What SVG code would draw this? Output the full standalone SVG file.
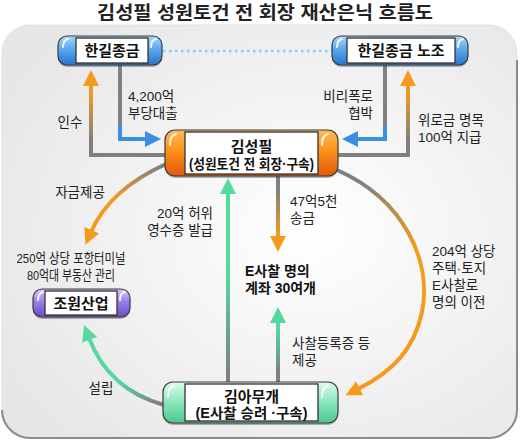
<svg xmlns="http://www.w3.org/2000/svg" width="520" height="443" viewBox="0 0 520 443">
<defs>
<style>
text{font-family:"Liberation Sans","Noto Sans CJK KR",sans-serif;fill:#222}
.lb{font-size:13.5px}
.nt{font-size:15px;font-weight:bold;fill:#111}
.bt{font-size:14px;font-weight:bold;fill:#111}
.wb{fill:#fff;stroke:#333;stroke-width:1.3}
.sh{fill:#555;opacity:.45}
.po{stroke:#3a3a3a;stroke-width:1.2}
.hl{fill:none;stroke:#fff;stroke-width:2;stroke-linecap:round;opacity:.9}
.cn{fill:none;stroke-width:4}
</style>
<radialGradient id="bg" cx="0.6" cy="0.5" r="0.7">
<stop offset="0" stop-color="#ffffff"/>
<stop offset="1" stop-color="#e6e6e6"/>
</radialGradient>
<linearGradient id="gb" x1="0" y1="0" x2="0" y2="1"><stop offset="0" stop-color="#a8d8fa"/><stop offset=".45" stop-color="#5aa8ef"/><stop offset="1" stop-color="#2a74cc"/></linearGradient>
<linearGradient id="go" x1="0" y1="0" x2="0" y2="1"><stop offset="0" stop-color="#ffbd5a"/><stop offset=".4" stop-color="#ff961c"/><stop offset="1" stop-color="#e0580a"/></linearGradient>
<linearGradient id="gp" x1="0" y1="0" x2="0" y2="1"><stop offset="0" stop-color="#d2c6fb"/><stop offset=".45" stop-color="#9a82ea"/><stop offset="1" stop-color="#6a4cc4"/></linearGradient>
<linearGradient id="gg" x1="0" y1="0" x2="0" y2="1"><stop offset="0" stop-color="#dcfcea"/><stop offset=".45" stop-color="#90e9c2"/><stop offset="1" stop-color="#4cc890"/></linearGradient>
<linearGradient id="c1" gradientUnits="userSpaceOnUse" x1="0" y1="140" x2="0" y2="92"><stop offset="0" stop-color="#808080"/><stop offset="1" stop-color="#f59b1c"/></linearGradient>
<linearGradient id="c2" gradientUnits="userSpaceOnUse" x1="0" y1="370" x2="0" y2="275"><stop offset="0" stop-color="#808080"/><stop offset="1" stop-color="#55d9a0"/></linearGradient>
<linearGradient id="c3" gradientUnits="userSpaceOnUse" x1="0" y1="190" x2="0" y2="236"><stop offset="0" stop-color="#808080"/><stop offset="1" stop-color="#f59b1c"/></linearGradient>
<linearGradient id="c4" gradientUnits="userSpaceOnUse" x1="0" y1="372" x2="0" y2="328"><stop offset="0" stop-color="#808080"/><stop offset="1" stop-color="#55d9a0"/></linearGradient>
<linearGradient id="c5" gradientUnits="userSpaceOnUse" x1="160" y1="166" x2="112" y2="200"><stop offset="0" stop-color="#808080"/><stop offset="1" stop-color="#f59b1c"/></linearGradient>
<linearGradient id="c6" gradientUnits="userSpaceOnUse" x1="365" y1="182" x2="415" y2="250"><stop offset="0" stop-color="#808080"/><stop offset="1" stop-color="#f59b1c"/></linearGradient>
<linearGradient id="c7" gradientUnits="userSpaceOnUse" x1="158" y1="404" x2="118" y2="382"><stop offset="0" stop-color="#808080"/><stop offset="1" stop-color="#55d9a0"/></linearGradient>
<marker id="ao" viewBox="0 0 16 16" refX="2" refY="8" markerWidth="16" markerHeight="16" markerUnits="userSpaceOnUse" orient="auto"><path d="M0,0 L16,8 L0,16 Z" fill="#f59b1c"/></marker>
<marker id="ab" viewBox="0 0 16 16" refX="2" refY="8" markerWidth="16" markerHeight="16" markerUnits="userSpaceOnUse" orient="auto"><path d="M0,0 L16,8 L0,16 Z" fill="#3a8fe0"/></marker>
<marker id="ag" viewBox="0 0 16 16" refX="2" refY="8" markerWidth="16" markerHeight="16" markerUnits="userSpaceOnUse" orient="auto"><path d="M0,0 L16,8 L0,16 Z" fill="#55d9a0"/></marker>
</defs>

<rect x="0" y="0" width="520" height="443" fill="#fff"/>
<text x="265" y="19" text-anchor="middle" style="font-size:18px;font-weight:bold;fill:#222" textLength="336" lengthAdjust="spacingAndGlyphs">김성필 성원토건 전 회장 재산은닉 흐름도</text>

<rect x="2" y="25" width="515" height="413" rx="28" fill="url(#bg)" stroke="#e2e2e2" stroke-width="1"/>
<path d="M2,410 A28,28 0 0 0 30,438 H489 A28,28 0 0 0 517,410 V60" fill="none" stroke="#8a8a8a" stroke-width="2"/>

<g id="connectors">
<path d="M163,51 H332" fill="none" stroke="#7dd3f0" stroke-width="2.5" stroke-dasharray="2.5 3.5"/>
<path class="cn" d="M120,65 V128" stroke="#808080"/>
<path class="cn" d="M120,126 V139 H147" stroke="#3a8fe0" marker-end="url(#ab)"/>
<path class="cn" d="M385,65 V128" stroke="#808080"/>
<path class="cn" d="M385,126 V139 H356" stroke="#3a8fe0" marker-end="url(#ab)"/>
<path class="cn" d="M166,155 H91 V84" stroke="url(#c1)" marker-end="url(#ao)"/>
<path class="cn" d="M337,155 H408 V84" stroke="url(#c1)" marker-end="url(#ao)"/>
<path class="cn" d="M228,382 V192" stroke="url(#c2)" marker-end="url(#ag)"/>
<path class="cn" d="M278,176 V238" stroke="url(#c3)" marker-end="url(#ao)"/>
<path class="cn" d="M278,382 V321" stroke="url(#c4)" marker-end="url(#ag)"/>
<path class="cn" d="M166,164 C135,178 105,200 91,232" stroke="url(#c5)" marker-end="url(#ao)"/>
<path class="cn" d="M337,170 C405,200 432,262 422,312 C414,350 392,372 358,389" stroke="url(#c6)" marker-end="url(#ao)"/>
<path class="cn" d="M164,405 C128,395 102,372 89,338" stroke="url(#c7)" marker-end="url(#ag)"/>
</g>

<g id="node-hangil">
<rect class="sh" x="58" y="38" width="104" height="29" rx="9"/>
<rect class="po" x="58" y="36" width="104" height="29" rx="9" fill="url(#gb)"/>
<path class="hl" d="M63,47 Q63,40 68,39"/>
<path class="hl" d="M151,47 Q151,40 156,39"/>
<rect class="wb" x="76" y="38" width="72" height="25"/>
<text class="nt" x="112" y="56" text-anchor="middle">한길종금</text>
</g>

<g id="node-union">
<rect class="sh" x="332" y="38" width="136" height="29" rx="9"/>
<rect class="po" x="332" y="36" width="136" height="29" rx="9" fill="url(#gb)"/>
<path class="hl" d="M337,47 Q337,40 342,39"/>
<path class="hl" d="M458,47 Q458,40 463,39"/>
<rect class="wb" x="347" y="38" width="108" height="25"/>
<text class="nt" x="401" y="56" text-anchor="middle">한길종금 노조</text>
</g>

<g id="node-kimsp">
<rect class="sh" x="165" y="132" width="173" height="46" rx="10"/>
<rect class="po" x="165" y="130" width="173" height="46" rx="10" fill="url(#go)"/>
<path class="hl" d="M170,145 Q170,135 176,134"/>
<path class="hl" d="M322,145 Q322,135 328,134"/>
<rect class="wb" x="185" y="132" width="133" height="42"/>
<text class="bt" x="251.5" y="152" text-anchor="middle" style="font-size:15px">김성필</text>
<text class="bt" x="251.5" y="169" text-anchor="middle" textLength="125" lengthAdjust="spacingAndGlyphs">(성원토건 전 회장·구속)</text>
</g>

<g id="node-jowon">
<rect class="sh" x="33" y="291" width="97" height="28" rx="9"/>
<rect class="po" x="33" y="289" width="97" height="28" rx="9" fill="url(#gp)"/>
<path class="hl" d="M38,300 Q38,293 43,292"/>
<path class="hl" d="M120,300 Q120,293 125,292"/>
<rect class="wb" x="45" y="291" width="72" height="24"/>
<text class="nt" x="81" y="309" text-anchor="middle">조원산업</text>
</g>

<g id="node-kimam">
<rect class="sh" x="163" y="384" width="175" height="41" rx="10"/>
<rect class="po" x="163" y="382" width="175" height="41" rx="10" fill="url(#gg)"/>
<path class="hl" d="M168,397 Q168,387 174,386"/>
<path class="hl" d="M322,397 Q322,387 328,386"/>
<rect class="wb" x="185" y="384" width="133" height="37"/>
<text class="bt" x="251.5" y="402" text-anchor="middle" style="font-size:15px">김아무개</text>
<text class="bt" x="251.5" y="418" text-anchor="middle" textLength="112" lengthAdjust="spacingAndGlyphs">(E사찰 승려 ·구속)</text>
</g>

<g id="node-accounts">
<text class="bt" x="245" y="276">E사찰 명의</text>
<text class="bt" x="245" y="293">계좌 30여개</text>
</g>

<g id="labels">
<text class="lb" x="128" y="101">4,200억</text>
<text class="lb" x="128" y="118">부당대출</text>
<text class="lb" x="373" y="101" text-anchor="end">비리폭로</text>
<text class="lb" x="373" y="118" text-anchor="end">협박</text>
<text class="lb" x="70" y="127" text-anchor="middle">인수</text>
<text class="lb" x="418" y="125">위로금 명목</text>
<text class="lb" x="418" y="142">100억 지급</text>
<text class="lb" x="80" y="197" text-anchor="middle">자금제공</text>
<text class="lb" x="213" y="218" text-anchor="end">20억 허위</text>
<text class="lb" x="213" y="235" text-anchor="end">영수증 발급</text>
<text class="lb" x="290" y="206">47억5천</text>
<text class="lb" x="290" y="223">송금</text>
<text class="lb" x="71" y="263" text-anchor="middle" textLength="109" lengthAdjust="spacingAndGlyphs">250억 상당 포항터미널</text>
<text class="lb" x="71" y="280" text-anchor="middle" textLength="88" lengthAdjust="spacingAndGlyphs">80억대 부동산 관리</text>
<text class="lb" x="432" y="256">204억 상당</text>
<text class="lb" x="432" y="273">주택·토지</text>
<text class="lb" x="432" y="290">E사찰로</text>
<text class="lb" x="432" y="307">명의 이전</text>
<text class="lb" x="292" y="348">사찰등록증 등</text>
<text class="lb" x="292" y="365">제공</text>
<text class="lb" x="101" y="393" text-anchor="middle">설립</text>
</g>
</svg>
